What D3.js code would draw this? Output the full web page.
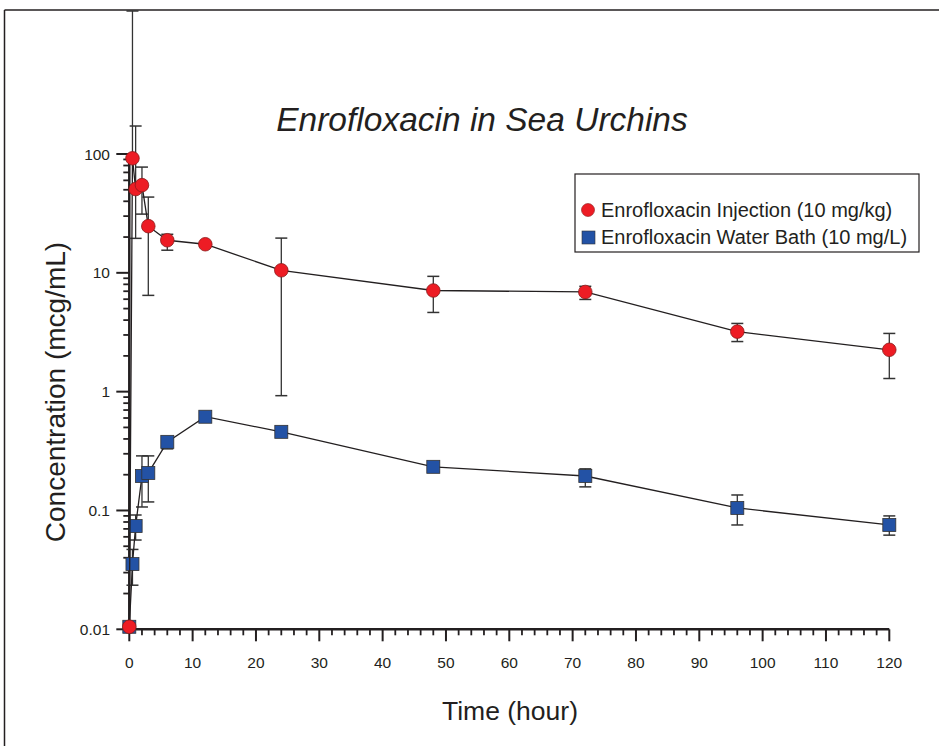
<!DOCTYPE html>
<html><head><meta charset="utf-8">
<script src="https://cdn.jsdelivr.net/npm/d3@7"></script>
<style>body{margin:0;background:#fff}svg{display:block;font-family:"Liberation Sans",Arial,Helvetica,sans-serif}</style>
</head><body><div id="chart"></div>
<script>
// ---- data ----
const injTime  = [0, 0.5, 1, 2, 3, 6, 12, 24, 48, 72, 96, 120];
const injMean  = [0.0105, 92, 50.7, 54.7, 24.7, 18.8, 17.4, 10.5, 7.1, 6.9, 3.2, 2.25];
const injUpper = [null, 1640, 172, 77.6, 43.4, 21.1, null, 19.6, 9.34, 7.7, 3.75, 3.09];
const injLower = [null, null, 19.5, 31.2, 6.46, 15.5, null, 0.925, 4.64, 5.97, 2.64, 1.29];

const bathTime  = [0, 0.5, 1, 2, 3, 6, 12, 24, 48, 72, 96, 120];
const bathMean  = [0.0105, 0.0354, 0.074, 0.195, 0.207, 0.378, 0.615, 0.459, 0.233, 0.195, 0.105, 0.0755];
const bathUpper = [null, 0.047, 0.0916, 0.288, 0.288, 0.41, null, null, 0.255, 0.224, 0.135, 0.09];
const bathLower = [null, 0.0235, 0.0564, 0.107, 0.118, 0.33, null, null, 0.212, 0.158, 0.0755, 0.062];

const xTicks = [0,10,20,30,40,50,60,70,80,90,100,110,120];
const yTicks = [0.01, 0.1, 1, 10, 100];
const yTickLabels = ["0.01", "0.1", "1", "10", "100"];
const seriesNames = ["Enrofloxacin Injection (10 mg/kg)", "Enrofloxacin Water Bath (10 mg/L)"];
const titleText = "Enrofloxacin in Sea Urchins";
const xTitle = "Time (hour)";
const yTitle = "Concentration (mcg/mL)";

// ---- drawing ----
const W = 939, H = 746;
const svg = d3.select("#chart").append("svg").attr("width", W).attr("height", H);
const ink = "#231f20";
const red = "#ed1c24", blue = "#2352a5";

// outer frame
svg.append("line").attr("x1", 4.5).attr("x2", W).attr("y1", 10).attr("y2", 10).attr("stroke", ink).attr("stroke-width", 1.5);
svg.append("line").attr("x1", 4.5).attr("x2", 4.5).attr("y1", 10).attr("y2", H).attr("stroke", ink).attr("stroke-width", 1.5);

const x = d3.scaleLinear().domain([0, 120]).range([129.3, 889.3]);
const y = d3.scaleLog().domain([0.01, 100]).range([629.3, 154]);

// x axis
const gx = svg.append("g");
gx.append("line").attr("x1", x(0)).attr("x2", x(120)).attr("y1", y(0.01)).attr("y2", y(0.01)).attr("stroke", ink).attr("stroke-width", 2.5);
const minorX = d3.range(0, 121, 2).filter(v => v % 10 !== 0);
gx.selectAll(".mx").data(minorX).join("line").attr("x1", d => x(d)).attr("x2", d => x(d))
  .attr("y1", y(0.01)).attr("y2", y(0.01) + 6).attr("stroke", ink).attr("stroke-width", 1.8);
gx.selectAll(".Mx").data(xTicks).join("line").attr("x1", d => x(d)).attr("x2", d => x(d))
  .attr("y1", y(0.01)).attr("y2", y(0.01) + 12).attr("stroke", ink).attr("stroke-width", 2);
gx.selectAll("text").data(xTicks).join("text").attr("x", d => x(d)).attr("y", 668)
  .attr("text-anchor", "middle").attr("font-size", 15.5).attr("fill", ink).text(d => d);

// y axis
const gy = svg.append("g");
gy.append("line").attr("x1", x(0)).attr("x2", x(0)).attr("y1", y(0.01)).attr("y2", y(100)).attr("stroke", ink).attr("stroke-width", 2.5);
const minorY = [];
for (let e = -2; e < 2; e++) for (let m = 2; m <= 9; m++) minorY.push(m * Math.pow(10, e));
gy.selectAll(".my").data(minorY).join("line").attr("x1", x(0) - 6).attr("x2", x(0))
  .attr("y1", d => y(d)).attr("y2", d => y(d)).attr("stroke", ink).attr("stroke-width", 1.8);
gy.selectAll(".My").data(yTicks).join("line").attr("x1", x(0) - 13).attr("x2", x(0))
  .attr("y1", d => y(d)).attr("y2", d => y(d)).attr("stroke", ink).attr("stroke-width", 2);
gy.selectAll("text").data(yTicks).join("text").attr("x", 110).attr("y", d => y(d) + 5.5)
  .attr("text-anchor", "end").attr("font-size", 15.5).attr("fill", ink).text((d, i) => yTickLabels[i]);

// titles
svg.append("text").attr("x", 482).attr("y", 131).attr("text-anchor", "middle")
  .attr("font-size", 33.5).attr("font-style", "italic").attr("fill", ink).text(titleText);
svg.append("text").attr("x", 510).attr("y", 720).attr("text-anchor", "middle")
  .attr("font-size", 26.5).attr("fill", ink).text(xTitle);
svg.append("text").attr("transform", "translate(65,392) rotate(-90)").attr("text-anchor", "middle")
  .attr("font-size", 28).attr("fill", ink).text(yTitle);

const yTop = 11;
function drawSeries(times, mean, upper, lower, color, shape) {
  const g = svg.append("g");
  const pts = times.map((t, i) => ({t, m: mean[i], u: upper[i], l: lower[i]}));
  // error bars
  const cap = 6;
  pts.forEach(p => {
    const cx = x(p.t), cy = y(p.m);
    if (p.u != null) {
      const yu = Math.max(yTop, y(p.u));
      g.append("line").attr("x1", cx).attr("x2", cx).attr("y1", cy).attr("y2", yu).attr("stroke", "#333").attr("stroke-width", 1.3);
      g.append("line").attr("x1", cx - cap).attr("x2", cx + cap).attr("y1", yu).attr("y2", yu).attr("stroke", "#333").attr("stroke-width", 1.5);
    }
    if (p.l != null) {
      const yl = y(p.l);
      g.append("line").attr("x1", cx).attr("x2", cx).attr("y1", cy).attr("y2", yl).attr("stroke", "#333").attr("stroke-width", 1.3);
      g.append("line").attr("x1", cx - cap).attr("x2", cx + cap).attr("y1", yl).attr("y2", yl).attr("stroke", "#333").attr("stroke-width", 1.5);
    }
  });
  // line
  g.append("path").datum(pts).attr("fill", "none").attr("stroke", ink).attr("stroke-width", 1.3)
    .attr("d", d3.line().x(d => x(d.t)).y(d => y(d.m)));
  // markers
  if (shape === "circle") {
    g.selectAll("circle").data(pts).join("circle").attr("cx", d => x(d.t)).attr("cy", d => y(d.m))
      .attr("r", 6.8).attr("fill", color).attr("stroke", "#8a1a1a").attr("stroke-width", 0.8);
  } else {
    const s = 13;
    g.selectAll("rect").data(pts).join("rect").attr("x", d => x(d.t) - s / 2).attr("y", d => y(d.m) - s / 2)
      .attr("width", s).attr("height", s).attr("fill", color).attr("stroke", "#333").attr("stroke-width", 0.8);
  }
}
drawSeries(bathTime, bathMean, bathUpper, bathLower, blue, "square");
drawSeries(injTime, injMean, injUpper, injLower, red, "circle");

// legend
const lg = svg.append("g");
lg.append("rect").attr("x", 575).attr("y", 174).attr("width", 344).attr("height", 78)
  .attr("fill", "#fff").attr("stroke", ink).attr("stroke-width", 1.2);
lg.append("circle").attr("cx", 588).attr("cy", 210).attr("r", 6.5).attr("fill", red).attr("stroke", "#8a1a1a").attr("stroke-width", 0.6);
lg.append("rect").attr("x", 582).attr("y", 231).attr("width", 13).attr("height", 13).attr("fill", blue).attr("stroke", "#333").attr("stroke-width", 0.6);
lg.append("text").attr("x", 601).attr("y", 216.5).attr("font-size", 20).attr("fill", ink).text(seriesNames[0]);
lg.append("text").attr("x", 601).attr("y", 244).attr("font-size", 20).attr("fill", ink).text(seriesNames[1]);
</script></body></html>
